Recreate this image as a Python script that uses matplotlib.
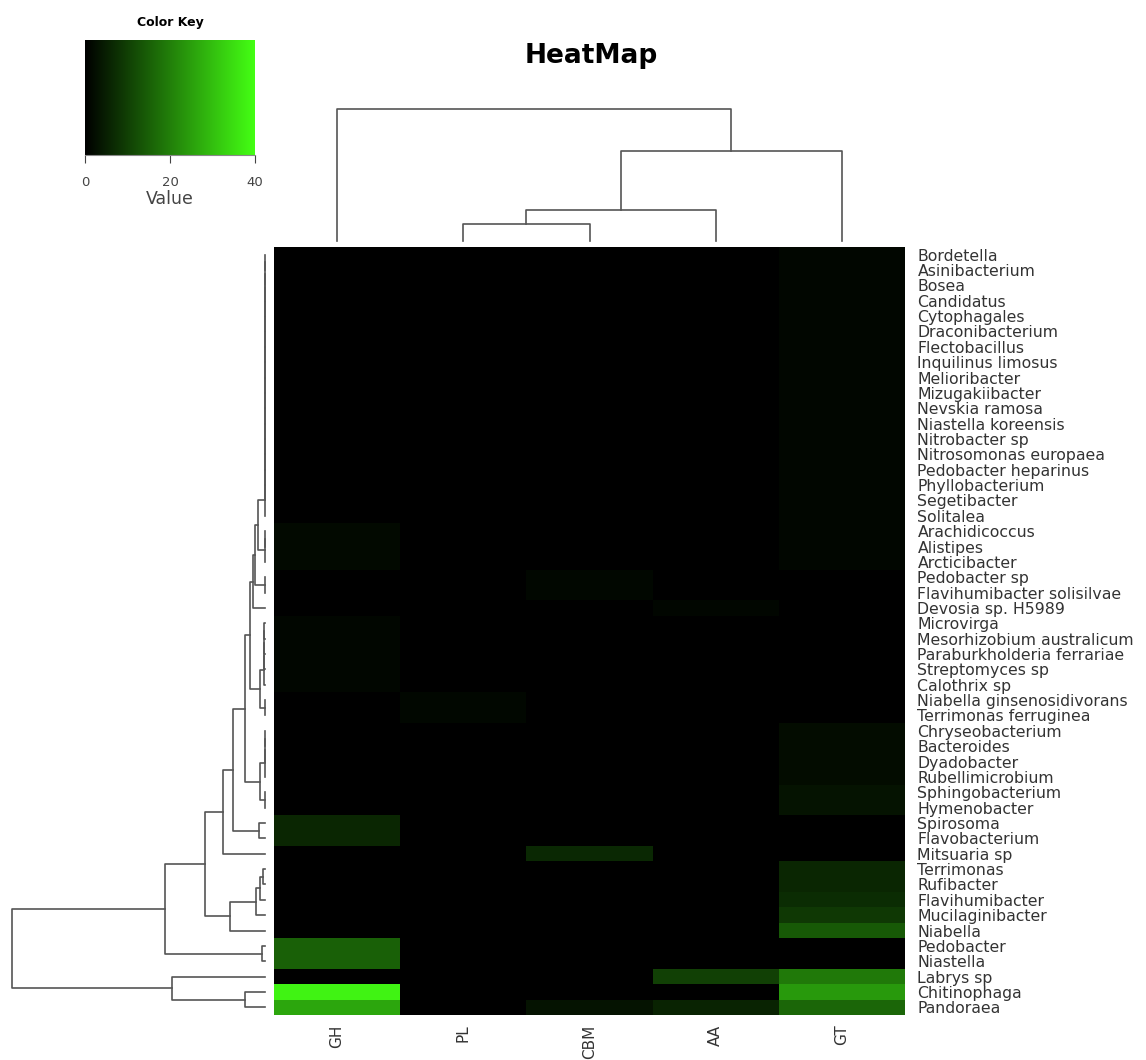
import numpy as np
import matplotlib.pyplot as plt
from matplotlib.colors import LinearSegmentedColormap

plt.rcParams['font.family'] = ['DejaVu Sans']

samples = ['GH', 'PL', 'CBM', 'AA', 'GT']
genera = ['Bordetella', 'Asinibacterium', 'Bosea', 'Candidatus', 'Cytophagales',
          'Draconibacterium', 'Flectobacillus', 'Inquilinus limosus', 'Melioribacter',
          'Mizugakiibacter', 'Nevskia ramosa', 'Niastella koreensis', 'Nitrobacter sp',
          'Nitrosomonas europaea', 'Pedobacter heparinus', 'Phyllobacterium',
          'Segetibacter', 'Solitalea', 'Arachidicoccus', 'Alistipes', 'Arcticibacter',
          'Pedobacter sp', 'Flavihumibacter solisilvae', 'Devosia sp. H5989',
          'Microvirga', 'Mesorhizobium australicum', 'Paraburkholderia ferrariae',
          'Streptomyces sp', 'Calothrix sp', 'Niabella ginsenosidivorans',
          'Terrimonas ferruginea', 'Chryseobacterium', 'Bacteroides', 'Dyadobacter',
          'Rubellimicrobium', 'Sphingobacterium', 'Hymenobacter', 'Spirosoma',
          'Flavobacterium', 'Mitsuaria sp', 'Terrimonas', 'Rufibacter',
          'Flavihumibacter', 'Mucilaginibacter', 'Niabella', 'Pedobacter',
          'Niastella', 'Labrys sp', 'Chitinophaga', 'Pandoraea']

# values per sample column (same order as genera)
gh = [0]*18 + [1.5]*3 + [0]*3 + [1]*5 + [0]*8 + [6, 6] + [0]*6 + [15, 15] + [0, 38, 26]
pl = [0]*29 + [1.2, 1.2] + [0]*19
cbm = [0]*21 + [1.2, 1.2] + [0]*16 + [6.5] + [0]*9 + [3]
aa = [0]*23 + [1] + [0]*23 + [10, 0, 5.5]
gt = [1]*21 + [0]*10 + [2]*4 + [3, 3] + [0]*3 + [6, 6, 7, 9, 14] + [0, 0] + [19, 24, 16]

values = np.array([gh, pl, cbm, aa, gt]).T


def chain(idx, h=0):
    node = idx[0]
    for i in idx[1:]:
        node = (node, i, h)
    return node


# row tree (heights = distance from the leaf line)
rA = chain(list(range(0, 18)))
rB = chain([18, 19, 20])
rAB = (rA, rB, 7)
rABC = (rAB, (21, 22, 0), 10)
rABCD = (rABC, 23, 12)
rEF = (chain(list(range(24, 29)), 1), (29, 30, 0), 5)
rTop = (rABCD, rEF, 15)
rG = (chain([31, 32, 33, 34]), (35, 36, 0), 5)
rTop2 = (rTop, rG, 20)
rTop3 = (rTop2, (37, 38, 6), 32)
rTop4 = (rTop3, 39, 42)
rK = ((((40, 41, 2), 42, 5), 43, 9), 44, 35)
rTop5 = (rTop4, rK, 60)
rTop6 = (rTop5, (45, 46, 3), 100)
rM = (47, (48, 49, 20), 93)
row_tree = (rTop6, rM, 253)

col_tree = (0, (((1, 2, 17), 3, 31), 4, 90), 132)

W, H = 1146, 1060
fig = plt.figure(figsize=(W/100, H/100), dpi=100)


def box(x0, y0, x1, y1):
    return [x0/W, 1 - y1/H, (x1 - x0)/W, (y1 - y0)/H]


cmap = LinearSegmentedColormap.from_list('kg', ['black', '#44ff14'])

# heatmap
ax = fig.add_axes(box(274, 247, 905, 1015))
ax.imshow(values, cmap=cmap, vmin=0, vmax=40, aspect='auto', interpolation='nearest')
ax.set_xticks(range(len(samples)))
ax.set_xticklabels(samples, rotation=90, fontsize=11, color='#333333')
ax.set_yticks(range(len(genera)))
ax.set_yticklabels(genera, fontsize=11.3, color='#333333')
ax.yaxis.tick_right()
ax.tick_params(axis='y', length=0, pad=9)
ax.tick_params(axis='x', length=0, pad=7)
for s in ax.spines.values():
    s.set_visible(False)

lc = '#555555'


def draw(axd, node, horiz):
    if not isinstance(node, tuple):
        return node, 0
    l, r, h = node
    pl_, hl = draw(axd, l, horiz)
    pr_, hr = draw(axd, r, horiz)
    if horiz:
        axd.plot([hl, h, h, hr], [pl_, pl_, pr_, pr_], color=lc, lw=1.2)
    else:
        axd.plot([pl_, pl_, pr_, pr_], [hl, h, h, hr], color=lc, lw=1.2)
    return (pl_ + pr_) / 2, h


# row dendrogram
axr = fig.add_axes(box(5, 247, 272, 1015))
draw(axr, row_tree, True)
axr.set_ylim(len(genera) - 0.5, -0.5)
axr.set_xlim(260, -7)
axr.axis('off')

# column dendrogram
axc = fig.add_axes(box(274, 105, 905, 245))
draw(axc, col_tree, False)
axc.set_xlim(-0.5, len(samples) - 0.5)
axc.set_ylim(-4, 136)
axc.axis('off')

fig.text(591/W, 1 - 56/H, 'HeatMap', ha='center', va='center', fontsize=19, fontweight='bold')

# color key
axk = fig.add_axes(box(85, 40, 255, 155))
axk.imshow(np.linspace(0, 40, 256)[None, :], cmap=cmap, aspect='auto',
           extent=(0, 40, 0, 1))
axk.set_xticks([0, 20, 40])
axk.set_yticks([])
axk.tick_params(labelsize=9.5, colors='#444444', length=6, pad=9)
axk.set_xlabel('Value', fontsize=12.5, labelpad=1, color='#444444')
axk.set_title('Color Key', fontsize=9, fontweight='bold', pad=10)
for s in ['top', 'right', 'left']:
    axk.spines[s].set_visible(False)
axk.spines['bottom'].set_color('#888888')

fig.savefig('out.png', dpi=100)
